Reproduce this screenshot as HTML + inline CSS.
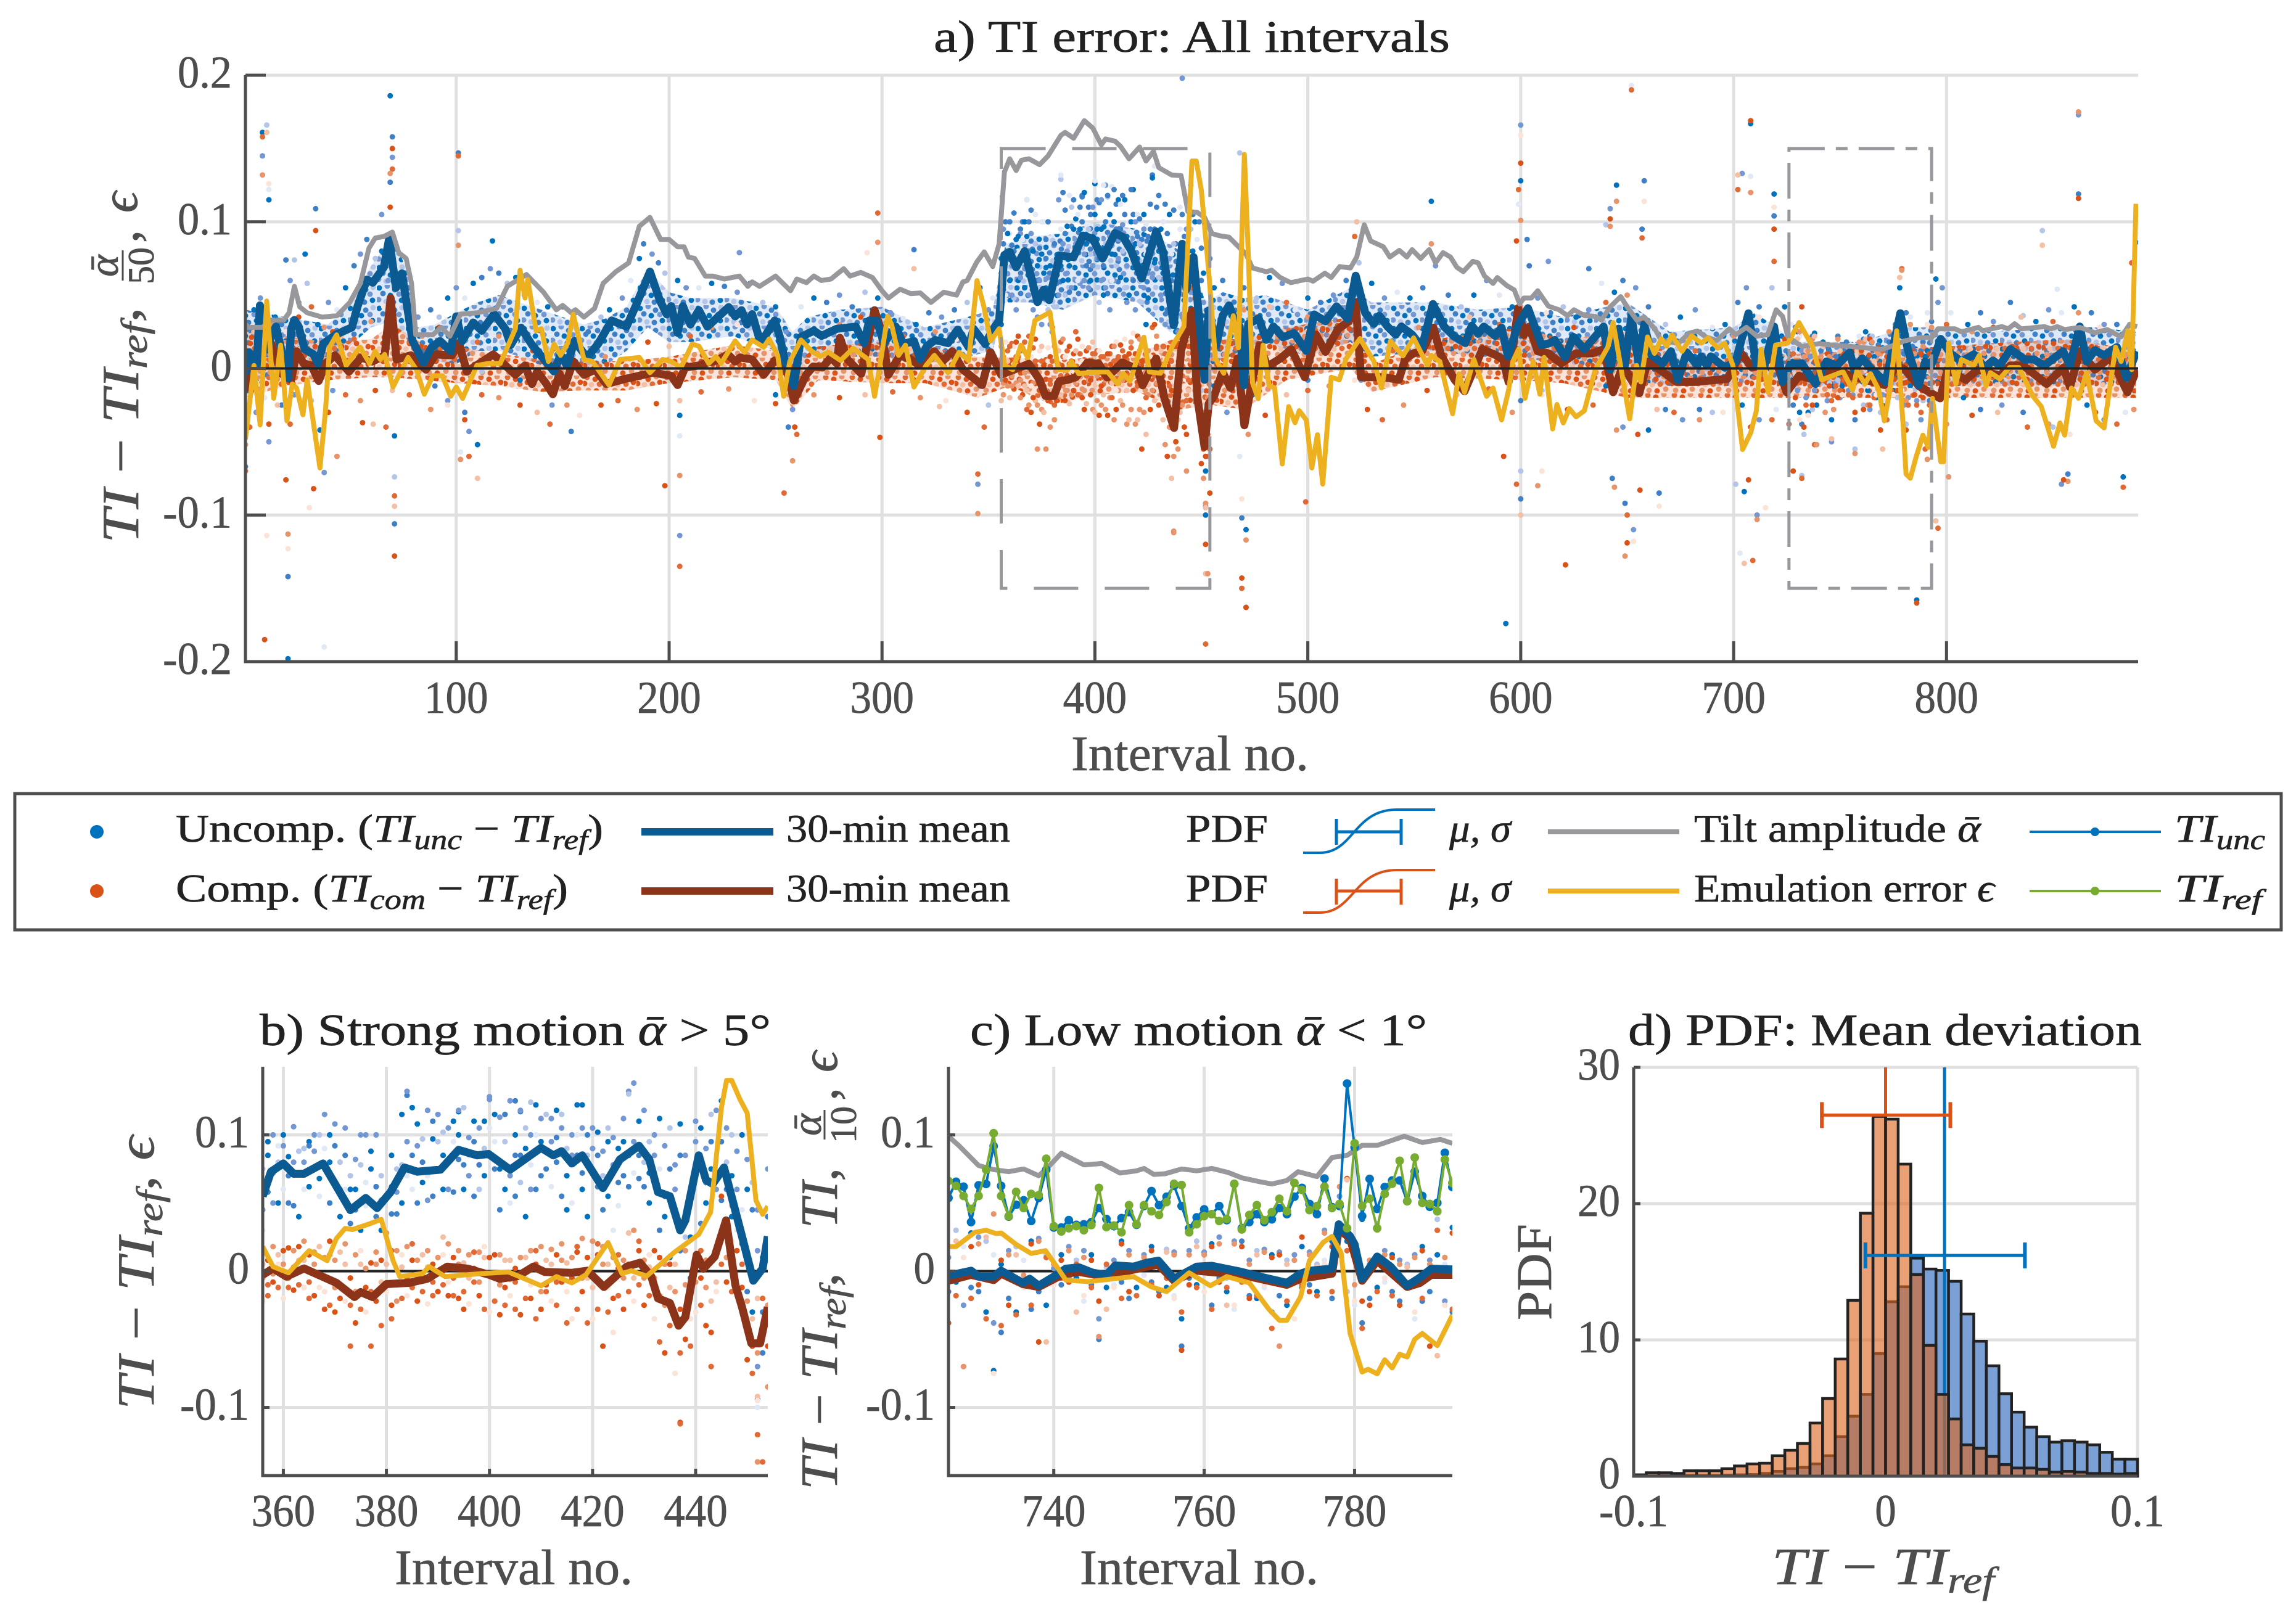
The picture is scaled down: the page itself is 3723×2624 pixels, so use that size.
<!DOCTYPE html>
<html><head><meta charset="utf-8"><title>TI error</title>
<style>
html,body{margin:0;padding:0;background:#fff}
svg{display:block}
text{font-family:"Liberation Serif",serif;fill:#4d4d4d;stroke:#4d4d4d;stroke-width:.7px}
.t{fill:#222;stroke:#222}
.i{font-style:italic}
</style></head><body>
<svg id="fig" xmlns="http://www.w3.org/2000/svg" width="3723" height="2624" viewBox="0 0 3723 2624">
<defs>
<clipPath id="ca"><rect x="398" y="122" width="3069" height="951"/></clipPath>
<clipPath id="cb"><rect x="426" y="1730" width="819" height="664"/></clipPath>
<clipPath id="cc"><rect x="1538" y="1730" width="817" height="664"/></clipPath>
<clipPath id="cd"><rect x="2649" y="1731" width="817" height="663"/></clipPath>
<pattern id="speckBlue" patternUnits="userSpaceOnUse" width="47" height="33">
<circle cx="4" cy="5" r="4.5" fill="#0072bd"/><circle cx="17" cy="2" r="4.5" fill="#7397d2"/><circle cx="29" cy="8" r="4.5" fill="#3f7fc5"/><circle cx="41" cy="4" r="4.5" fill="#b3c5e8"/>
<circle cx="10" cy="14" r="4.5" fill="#3f7fc5"/><circle cx="22" cy="17" r="4.5" fill="#0072bd"/><circle cx="36" cy="15" r="4.5" fill="#7397d2"/>
<circle cx="3" cy="24" r="4.5" fill="#7397d2"/><circle cx="15" cy="27" r="4.5" fill="#b3c5e8"/><circle cx="27" cy="28" r="4.5" fill="#3f7fc5"/><circle cx="40" cy="25" r="4.5" fill="#0072bd"/>
</pattern>
<pattern id="speckOrange" patternUnits="userSpaceOnUse" width="43" height="29">
<circle cx="6" cy="3" r="4.5" fill="#df6a35"/><circle cx="19" cy="6" r="4.5" fill="#d95319"/><circle cx="32" cy="2" r="4.5" fill="#e8946b"/>
<circle cx="2" cy="13" r="4.5" fill="#d95319"/><circle cx="13" cy="15" r="4.5" fill="#f3bfa5"/><circle cx="26" cy="14" r="4.5" fill="#df6a35"/><circle cx="38" cy="11" r="4.5" fill="#d95319"/>
<circle cx="8" cy="24" r="4.5" fill="#e8946b"/><circle cx="21" cy="25" r="4.5" fill="#d95319"/><circle cx="35" cy="22" r="4.5" fill="#e8946b"/>
</pattern>
</defs>
<g id="pa"></g>
<g id="pb"></g>
<g id="pc"></g>
<g id="pd"></g>

<text class="t" x="1514" y="84" font-size="73" textLength="837" lengthAdjust="spacingAndGlyphs">a) TI error:  All intervals</text>
<text x="1737" y="1249" font-size="80" textLength="385" lengthAdjust="spacingAndGlyphs">Interval no.</text>
<g>
<text transform="translate(224,881) rotate(-90)" font-size="85" textLength="383" lengthAdjust="spacingAndGlyphs"><tspan class="i">TI</tspan> − <tspan class="i">TI</tspan><tspan class="i" font-size="60" dy="14">ref</tspan><tspan dy="-14">,</tspan></text>
<text class="i" transform="translate(191,431) rotate(-90)" font-size="68" text-anchor="middle">ᾱ</text>
<line x1="199" x2="199" y1="406" y2="455" stroke="#4d4d4d" stroke-width="3"/>
<text transform="translate(249,431) rotate(-90)" font-size="60" text-anchor="middle">50</text>
<text transform="translate(224,394) rotate(-90)" font-size="85">,</text>
<text class="i" transform="translate(222,345) rotate(-90)" font-size="85">ϵ</text>
</g>

<g>
<rect x="24" y="1287" width="3675" height="221" fill="#fff" stroke="#4d4d4d" stroke-width="5"/>
<circle cx="157" cy="1349" r="11" fill="#0072bd"/>
<circle cx="157" cy="1445" r="11" fill="#d95319"/>
<text class="t" x="285" y="1365" font-size="64" textLength="693" lengthAdjust="spacingAndGlyphs">Uncomp. (<tspan class="i">TI</tspan><tspan class="i" font-size="46" dy="12">unc</tspan><tspan dy="-12"> − </tspan><tspan class="i">TI</tspan><tspan class="i" font-size="46" dy="12">ref</tspan><tspan dy="-12">)</tspan></text>
<text class="t" x="285" y="1462" font-size="64" textLength="636" lengthAdjust="spacingAndGlyphs">Comp. (<tspan class="i">TI</tspan><tspan class="i" font-size="46" dy="12">com</tspan><tspan dy="-12"> − </tspan><tspan class="i">TI</tspan><tspan class="i" font-size="46" dy="12">ref</tspan><tspan dy="-12">)</tspan></text>
<line x1="1040" x2="1254" y1="1349" y2="1349" stroke="#0b5a91" stroke-width="12"/>
<line x1="1040" x2="1254" y1="1445" y2="1445" stroke="#8c341a" stroke-width="12"/>
<text class="t" x="1275" y="1365" font-size="64" textLength="363" lengthAdjust="spacingAndGlyphs">30-min mean</text>
<text class="t" x="1275" y="1462" font-size="64" textLength="363" lengthAdjust="spacingAndGlyphs">30-min mean</text>
<text class="t" x="1923" y="1365" font-size="64" textLength="133" lengthAdjust="spacingAndGlyphs">PDF</text>
<text class="t" x="1923" y="1462" font-size="64" textLength="133" lengthAdjust="spacingAndGlyphs">PDF</text>
<path d="M2113 1383 H2140 C2195 1383 2195 1313 2265 1313 H2327" fill="none" stroke="#0072bd" stroke-width="4"/>
<path d="M2113 1480 H2140 C2195 1480 2195 1411 2265 1411 H2327" fill="none" stroke="#d95319" stroke-width="4"/>
<path d="M2167 1328V1370M2272 1328V1370M2167 1349H2272" fill="none" stroke="#0072bd" stroke-width="5"/>
<path d="M2167 1425V1467M2272 1425V1467M2167 1445H2272" fill="none" stroke="#d95319" stroke-width="5"/>
<text class="t i" x="2350" y="1365" font-size="64" textLength="100" lengthAdjust="spacingAndGlyphs">μ, σ</text>
<text class="t i" x="2350" y="1462" font-size="64" textLength="100" lengthAdjust="spacingAndGlyphs">μ, σ</text>
<line x1="2510" x2="2723" y1="1349" y2="1349" stroke="#98989c" stroke-width="8"/>
<line x1="2510" x2="2723" y1="1445" y2="1445" stroke="#edb120" stroke-width="8"/>
<text class="t" x="2747" y="1365" font-size="64" textLength="465" lengthAdjust="spacingAndGlyphs">Tilt amplitude <tspan class="i">ᾱ</tspan></text>
<text class="t" x="2747" y="1462" font-size="64" textLength="487" lengthAdjust="spacingAndGlyphs">Emulation error <tspan class="i">ϵ</tspan></text>
<line x1="3291" x2="3504" y1="1349" y2="1349" stroke="#0072bd" stroke-width="4"/>
<circle cx="3397" cy="1349" r="7" fill="#0072bd"/>
<line x1="3291" x2="3504" y1="1445" y2="1445" stroke="#77ac30" stroke-width="4"/>
<circle cx="3397" cy="1445" r="7" fill="#77ac30"/>
<text class="t i" x="3526" y="1365" font-size="64" textLength="147" lengthAdjust="spacingAndGlyphs">TI<tspan font-size="46" dy="12">unc</tspan></text>
<text class="t i" x="3526" y="1462" font-size="64" textLength="142" lengthAdjust="spacingAndGlyphs">TI<tspan font-size="46" dy="12">ref</tspan></text>
</g>

<text class="t" x="421" y="1695" font-size="73" textLength="829" lengthAdjust="spacingAndGlyphs">b) Strong motion <tspan class="i">ᾱ</tspan> &gt; 5°</text>
<text x="640" y="2569" font-size="80" textLength="386" lengthAdjust="spacingAndGlyphs">Interval no.</text>
<text transform="translate(249,2286) rotate(-90)" font-size="85" textLength="444" lengthAdjust="spacingAndGlyphs"><tspan class="i">TI</tspan> − <tspan class="i">TI</tspan><tspan class="i" font-size="60" dy="14">ref</tspan><tspan dy="-14">, </tspan><tspan class="i">ϵ</tspan></text>

<text class="t" x="1573" y="1695" font-size="73" textLength="741" lengthAdjust="spacingAndGlyphs">c) Low motion <tspan class="i">ᾱ</tspan> &lt; 1°</text>
<text x="1751" y="2569" font-size="80" textLength="387" lengthAdjust="spacingAndGlyphs">Interval no.</text>
<g>
<text transform="translate(1357,2416) rotate(-90)" font-size="85" textLength="352" lengthAdjust="spacingAndGlyphs"><tspan class="i">TI</tspan> − <tspan class="i">TI</tspan><tspan class="i" font-size="60" dy="14">ref</tspan><tspan dy="-14">,</tspan></text>
<text transform="translate(1357,1992) rotate(-90)" font-size="85" textLength="98" lengthAdjust="spacingAndGlyphs"><tspan class="i">TI</tspan>,</text>
<text class="i" transform="translate(1331,1824) rotate(-90)" font-size="68" text-anchor="middle">ᾱ</text>
<line x1="1337" x2="1337" y1="1800" y2="1848" stroke="#4d4d4d" stroke-width="3"/>
<text transform="translate(1388,1824) rotate(-90)" font-size="60" text-anchor="middle">10</text>
<text transform="translate(1357,1785) rotate(-90)" font-size="85">,</text>
<text class="i" transform="translate(1357,1739) rotate(-90)" font-size="85">ϵ</text>
</g>

<text class="t" x="2640" y="1695" font-size="73" textLength="833" lengthAdjust="spacingAndGlyphs">d) PDF: Mean deviation</text>
<text x="2873" y="2569" font-size="85" textLength="361" lengthAdjust="spacingAndGlyphs"><tspan class="i">TI</tspan> − <tspan class="i">TI</tspan><tspan class="i" font-size="60" dy="14">ref</tspan></text>
<text transform="translate(2515,2141) rotate(-90)" font-size="80" textLength="156" lengthAdjust="spacingAndGlyphs">PDF</text>
</svg>

<script>
// ---- Panel a: tick values and labels
const aXTicks=[100,200,300,400,500,600,700,800];
const aYTicks=[-0.2,-0.1,0,0.1,0.2];
const aYLabels=['-0.2','-0.1','0','0.1','0.2'];
const bXTicks=[360,380,400,420,440];
const cXTicks=[740,760,780];
const bcYTicks=[-0.1,0,0.1];
const bcYLabels=['-0.1','0','0.1'];
const dXTicks=[-0.1,0,0.1];
const dXLabels=['-0.1','0','0.1'];
const dYTicks=[0,10,20,30];

// ---- Series values: y given in units of 0.001
const tiltX=[1,2.5,9,13,19,21.5,24,26.5,30,37,44,50,55,59,62,66,70,73,76.5,79,81,89,93,97,102,110,119,124,133,141,147,150,154,156,160,165,169,175,181,186,191,196,200,204,207,209,212,217,220.5,226,233,237,239,242.5,250,257,260,264.5,268,271.5,276,282,285,290,295.5,300,303,308.5,313.5,318,323,329,335,338,340,344.5,348,352,355,357.5,360,363,365.5,369,374,378,384,386,390,395,399,403,405,409.5,412,416,421,424,427.5,430,436,440.5,443.7,448,451.5,455,458.5,463,467.5,471,474,480.5,483,487,492,500,502.5,508,511,515,520,523,526.5,529.5,535.5,538.5,543,546.5,549,553,557,560,563.5,567,570,573,577.5,580,583,587,589,593.5,597,599.5,601.5,605,608,613,618,622,625,630,635,638,642,647,650,654.5,658,663,666,674,679,683,687,692,698,701,706,711,716,720,723,725.5,732,740.4,745,755,769,773,780,787.6,793,796,804,807,815,817,826,829,832,835,846,849,852,855.5,862.6,869.7,875.5,882,886,889.5];
const tiltY=[30,28,28,33,33,38,56,42,38,35,36,45,58,82,89,90,93,79,75,58,23,23,28,22,37,38,41,56,64,52,40,43,38,40,35,41,58,66,72,97,103,88,88,83,83,76,75,63,63,61,63,56,59,56,63,53,61,58.5,63,60,61,68,63,65.5,62,53,48,54,51,51.5,45,52,50,59,60,72.5,79.5,69.5,85,134,143,135,142,143,139,145,159,161,157,169,164,152.5,156.5,155,151.5,143,151,141.5,148,137,132,131.5,107,106.5,103,92,90.5,89.5,83,78,68.5,66,67,62,58.5,61,59.5,65,62,69.5,68.5,76,98,87,83,76,80.5,76,81,75,81,72,79,76,69,66,73,72,63,58,62,56.5,53.5,44,48,48,53,42.5,40,36,40,36,35.5,33,42,49,42,33,35,27,19,17,24,25.5,21.5,19,27,23,28,22,23,40,35.5,21.5,15,17,16,15,13,14.5,18.7,21,21,27,27,25,28,25.7,28.5,27,30.5,27,28.5,27,28.5,26.5,28,24.3,26.5,21.5,30,28.5];

const uncMeanX=[1,2.4,4.4,6.3,7.8,9.5,11.5,13,15.3,17.8,21,22.5,24,26,28.8,33,35,37.6,43.4,51,53.7,58,60.8,66,68.5,71.7,74.5,76.9,79.5,84.7,88.5,92.4,97.5,100,102.8,108,112,117.8,123,125.6,130.4,135.6,145.9,149,152,155.6,161.4,166.6,173,180,184.7,191,195.6,198.9,201,204,206.5,210,214,218,228,231,234,236.6,239,243,249.6,252,254,258.6,261.9,268,271.6,278.7,287.7,291.6,294,297.4,301,306.5,310,315,318,321,325,331,335.5,340.7,343,348.5,351.7,355,357.5,360,363,367,373,375.9,378.5,383.4,390,394.4,399,403.6,409.4,413.3,417,422,428.8,432,437,441,443,446.3,449.5,451.5,453.4,457,460,463,466.3,468,470,472,477,480.5,483.8,488.3,493.5,499.3,503,508.3,513.5,518.7,522.5,527,531,533.6,537.4,541.3,544,549,553.6,558.8,564,569,574,577,580,582.7,588,591,594,598.8,603.4,609.8,613.7,616,620.8,624.7,629.9,638.9,642,646,648.9,652,655.5,658,661.5,666.7,670.6,673.8,678,683,684.8,687.4,689.3,695.8,701,707,710.7,714,719,723,726.8,732,738.5,743.6,748.5,754.6,756.6,760.4,765,771.4,778.3,781.8,787,790,792.8,797.3,801.8,807,812.8,818,821.8,825,830,836.7,841,846,854.8,858,862.6,865.8,869.7,874,880,884.5,889.3];
const uncMeanY=[-4,11,9,2,43,35,13,21.5,28.5,13,-6.5,27,33,28.5,13,9.6,3.4,17,23,28,42.5,60.6,58.5,69,88.5,55,64.8,42.5,18.7,4,14.5,18.7,11.7,35.5,18.7,31.3,25.7,37,27.1,16,27.8,16,-2,9,2,18.7,7.5,16.6,32.7,28.5,43.9,66,46.6,36.9,42.5,24.3,42.5,30,39.7,28.5,41.8,35.5,39.7,30,37,17.3,32.7,21.5,7.5,-12,21.5,25.7,22.2,27,28.5,17.3,32.7,32.7,17.3,28.5,16.6,18.7,6.1,15.2,19.4,17.3,26.4,14.5,27,16.6,25.7,32.7,77.4,79.5,69,80,45.3,53.6,46.6,76.7,76,90.6,88.5,75,92.3,89.6,80.5,61.4,93.3,79.6,29.5,85,54,76,25,-7.8,39.5,15.8,36,43,30.4,28.6,-11.5,30.4,34,19.5,28.6,21.3,24,12,36.8,32.2,42.3,34,63.2,37.7,30.4,35.9,28.6,23,28.6,23,14.5,43.9,28.5,21.5,17.3,29.2,23.6,28.5,22.2,27.8,8.2,29.9,41.1,15.9,17.3,19.4,7.5,21.5,13.1,28.5,-0.8,27.1,2,35.5,2,29.9,8.9,3.4,11.7,-7.8,11,2,8.2,2,8.2,0.6,4.7,37.6,2,-0.8,28.5,-9.2,3.4,3.4,-10.6,4.7,2,11,-0.8,6.8,-0.8,-9.2,37.6,13.1,-11.3,4.7,2,20.1,10.3,4.7,9.6,0.6,5.4,2,13.1,6.1,6.1,2,11.7,2,28.5,4.7,12.4,8.9,14.5,-6.4,11.7];

const comMeanX=[1,2.4,6.3,10,13,17.9,22.5,25,28.3,32,35.4,38.6,43,49.6,55.4,60.6,66.4,69.2,72,78.7,85.8,90.3,98,101.3,105,110.9,117.4,127.8,132.3,135.6,138,142,145.4,148.5,151,155,160,165.3,170.5,179.5,186,192.4,201,204,207.5,214,218,222.4,227.6,231,233.4,239,244.4,249.6,254.7,258.6,264.4,267.7,272,276,278.7,280.2,283.8,290.3,293,296.5,299.4,303,308.4,313.6,317.5,324.6,328.4,333,338,347,351,355.9,369,374,376.8,380.8,383.3,387.3,391,396.5,401.8,405.7,412.8,419.9,422.4,428.8,432.7,437.2,440.5,445.6,448.2,451.5,453.4,456,459.9,463.7,467,470.2,473.4,477.3,481,487,492.2,498.6,503.8,508.3,514.2,519.3,522.5,525,531,536,542.7,545.8,549.7,553.6,559,562.6,569,573.6,582,588.5,591.7,594.3,598.8,601.4,604,608,613,619,626,633.7,639,643.4,648,655.7,659.6,666,673.2,681.6,697,703.5,708.7,712.6,719,724.9,730.7,738.5,748.5,755,770.8,776.6,780.5,787,797,800.5,809,814.7,825,830,836,847,855,858,862.6,869.7,877,885,889.3];
const comMeanY=[-15.5,-1,4.7,17.3,17.3,-3.6,-7.8,11.7,3.4,2,-8.5,3.4,8.9,-2.2,7.5,4.7,8.9,48,6.1,8.9,-0.8,9.6,8.9,17.3,-2.2,3.4,9.6,-4.3,2,-10.6,-2.2,-9.9,-17.6,-3.6,-12,4.7,-4.3,-0.8,-10.6,-7.1,-5,-2.9,-5,-11.3,0.6,2,4,5.4,9.6,4.7,7.5,6.1,-4.3,5.4,2,-21.8,-4.3,1.3,0.6,7.5,3.4,20.8,6.1,-3.6,15.9,39.7,27.1,-4.3,8.9,6.1,2,11.7,4.7,11.7,-0.8,-11.3,11,-4.2,3.1,-7.8,-18.8,-18.8,-8.7,-7.8,-6,4,3.1,-6,4,-0.5,-11.5,6.7,-20.6,-40.6,12.2,39.5,-20.6,-53.4,-24.2,-18.8,-2.4,-13.3,6.7,-38.8,-11.5,15.8,1.3,6.7,13.1,-6,23.1,11.3,26.8,32.2,45,-6,-6,-6,-7.8,6.7,10.3,11.7,27.8,8.9,-7.8,-15.5,13.1,8.9,6.1,-9.2,41.1,22.9,28.5,11.7,10.3,3.4,10.3,10.3,13.1,-16.2,2,-16.9,4.7,-1.5,-9.2,-9.2,-7.1,10.3,0.6,2,8.9,-16.2,-5,-7.8,-0.8,-5,-11.3,2,-0.8,-12,-20.4,-0.8,-7.8,-0.8,-5,2,2,-10.6,0.6,-12.7,11.7,-0.8,7.5,-16.2,-0.8];

const emuErrX=[1,5,7.9,11,14.3,17.5,20.5,23,25,28,30,36,38.6,40.5,43.8,48.3,54.8,59.3,61.9,64.4,66.4,70.3,77.4,81.3,85,89,93.5,97.4,100,103,109.7,115,120.7,127.8,130,132.3,133.6,137.5,140,143.3,146,149,152.4,155,160,164,171.8,177,186,191,197,201,205.6,210.8,214,218.6,222,224.4,231,235.4,239,244.4,247,251,253.8,256.7,261.9,267,270.9,274.8,280.6,286.4,290.3,293.5,296.5,298.7,302.6,304.5,307.8,311,315,320.7,324.6,331,336.2,340.7,344.6,347.8,351,355,357.5,361.4,365.3,368.5,371.8,378.9,382.7,387.3,389,392.4,400,406,410.7,413.3,416.5,423,425.6,430.8,436.6,441.8,445.6,447.6,450,453.4,456.6,460.5,465,467.4,470.2,472,474,476.7,479,481.8,484.4,488,491,494,496,499.3,501.9,504.5,507,511,514.8,518,524.5,531,534.6,538.8,544.7,549.7,556.2,558,562,568,571,573.6,578,584,587,591,594.3,596.3,599,602,605.9,609,611,615,617,620,622.8,626,629.9,635,640.9,643.4,646.7,651.2,654.4,656.4,659.6,662.8,666,668.6,671,675.8,680.3,684.8,688,692.6,695.8,699.7,704.2,708,710.7,712.9,716.2,719.7,725.5,730.7,737,741.4,751.4,755.9,757.9,761.7,764.3,768.2,770.8,773.4,776.6,779.8,781,783,785.6,788.9,791.5,793.4,797.3,798.6,801,804.4,807,812.8,815.4,818.6,820.6,825,829.6,834,840.6,844.5,850.3,853.3,855.5,858.7,862,865.8,870.3,874,879.4,882,885.2,887,889];
const emuErrY=[-48.3,2,-38.5,46,-20.4,15.9,-35.8,-10.6,-13.4,-31.6,-7.8,-67.9,-28.8,14.5,22.9,2,14.5,3.4,11.7,6.1,9.6,-12.7,7.5,-0.8,-17.6,-5,-5,-19,-12.7,-20.4,2,3.4,3.4,27.1,66.9,48,60.6,25.7,27.1,4.7,16.6,8.9,17.3,36.9,6.1,4.7,-11.3,6.1,7.5,-2.9,6.1,4.7,0.6,16.6,15.2,3.4,8.2,3.4,18.7,11,19.4,14.5,20.1,8.9,-19,4.7,19.4,11.7,8.2,11,5.4,13.8,9.6,6.1,-19,-0.8,35.5,30,8.9,15.9,-12.7,2,8.9,-2.9,11,5.4,59.9,42.5,18.7,27.1,2,-0.8,15.9,7.5,32.7,38.3,-0.8,-0.8,4.7,-3.6,-2.4,-2.4,-10.6,-3.3,-8.7,21.3,-2.4,-3.3,15.8,28.6,141.5,141.5,121.5,66.8,6.7,-3.3,35.9,14,146,79.6,-9.7,-20.6,15.8,-11.5,-13.3,-65.2,-26,-37,-28.8,-35.2,-67.9,-45.2,-78.9,-6,-7.8,6.7,20.4,4.9,-13.3,18.6,8.6,20.8,2,8.9,4.7,-30.9,-3.6,-16.2,6.1,-19,-13.4,-35.1,-14.8,4.7,13.1,-20.4,4.7,-17.6,7.5,-41.3,-24.6,-37.2,-27.4,-33,-28.8,-0.8,14.5,31.3,3.4,-34.4,2,-9.2,21.5,10.3,20.1,15.2,22.9,11.7,22.2,17.3,20.8,13.8,17.3,2,-55.3,-44.1,-28.8,13.1,-16.2,15.9,17.3,31.3,15.2,-7.8,-2.2,-14.8,-1.5,-10.6,-3.6,-14.8,-35.8,-14.8,25.7,-42.7,-72.1,-74.9,-60.9,-45.5,-53.9,-20.4,-63.7,-63.7,17.3,-10.6,6.1,2,8.9,-12,-2.9,-7.1,0.6,0.6,-19,-26,-53.1,-37.2,-45.5,-13.4,-20.4,-2.9,-35.8,-40.6,14.5,4.7,25.7,-0.8,112.3];

// Dense-cloud envelope of the point clouds (units of 0.001)
const uncCloudX=[1,20,40,50,60,70,76,82,90,100,110,120,130,140,150,160,170,180,190,200,210,230,250,258,265,280,300,320,340,352,358,370,385,400,420,435,445,452,460,470,480,500,520,530,560,580,600,620,640,650,670,700,710,730,760,780,800,820,850,870,889];
const uncCloudTop=[40,35,30,45,70,90,70,28,30,38,45,50,45,40,35,30,34,42,68,52,48,48,42,25,35,40,42,28,35,40,85,90,92,100,95,85,75,45,52,48,50,40,55,45,45,40,42,35,42,45,25,28,38,18,18,28,28,25,28,28,25];
const uncCloudBot=[-10,-5,5,15,28,32,22,5,5,3,12,12,8,2,-3,0,2,12,28,18,18,22,12,-12,8,8,8,3,8,12,45,45,40,50,45,25,22,-8,8,8,18,8,18,8,12,8,8,2,2,-8,-12,-12,-8,-12,-12,-12,-12,-12,-12,-12,-8];
const comCloudX=[1,20,40,60,70,85,100,120,140,160,180,200,230,250,258,270,300,320,345,360,380,400,420,440,455,470,490,520,530,560,600,620,650,680,700,730,760,800,830,860,889];
const comCloudTop=[25,22,18,20,30,16,15,10,6,5,5,8,16,12,3,15,18,15,8,8,5,8,10,22,20,20,28,35,3,20,28,20,25,3,8,10,12,15,18,20,12];
const comCloudBot=[-20,-12,-8,-6,-6,-8,-10,-12,-16,-15,-15,-10,-6,-8,-28,-8,-10,-10,-20,-12,-25,-18,-16,-28,-25,-28,-8,0,-16,-6,-8,-10,-20,-20,-20,-20,-20,-20,-20,-20,-20];

// Individual readings, flat x,y pairs (y in 0.001)
const uncPoints=[69,186,70,158,70,144,69,127,11,166,9,161,9,145,12,122,12,115,34,109,65,105,101,147,101,94,117,87,233,79,38,-190,21,-198,21,-142,205,-114,71,-106,71,-74,71,-46,38,-71,205,-46,205,-32,1,-67,12,-50,20,74,24,74,29,78,106,-43,102,-57,110,-52,154,-43,441,198,315,81,384,129,400,126,405,125,408,124,418,122,427,132,368,115,394,117,406,117,558,114,600,166,599,112,600,128,603,88,613,73,632,68,468,147,452,-70,452,-94,452,-140,471,-110,469,-102,471,-163,600,-89,600,-70,593,-174,345,-79,652,193,645,125,658,128,642,109,657,95,640,98,708,167,704,133,708,131,719,119,719,104,862,173,862,119,845,94,795,61,798,55,852,54,889,86,649,-92,653,-110,643,-75,701,-79,705,-84,711,-100,703,-126,883,-74,857,-72,854,-79,665,-85,732,-73,786,-158,
356,65,356,45,356,30,357,85,357,58,358,100,358,72,359,80,359,50,360,92,360,60,361,84,361,70,362,106,362,48,363,88,363,40,364,80,364,60,365,95,365,92,366,100,366,75,367,100,367,68,368,115,368,90,369,80,369,50,370,108,370,65,371,80,371,40,372,105,372,60,373,60,373,35,374,82,374,45,375,78,375,30,376,100,376,65,377,75,377,50,378,100,378,40,379,70,379,30,380,55,380,25,381,85,381,62,382,58,382,42,383,78,383,115,384,132,384,70,385,120,385,85,386,92,386,50,387,97,387,65,388,118,388,70,389,97,389,55,390,115,390,75,391,102,391,60,392,105,392,80,393,110,393,58,394,118,394,82,395,120,395,60,396,98,396,85,397,110,397,55,398,105,398,78,399,90,399,70,400,128,400,105,401,115,401,75,402,113,402,45,403,95,403,60,404,125,404,50,405,100,405,55,406,118,406,85,407,105,407,40,408,100,408,78,409,122,409,60,410,112,410,70,411,115,411,88,412,112,412,62,413,118,413,98,414,105,414,55,415,90,415,45,416,100,416,50,417,122,417,85,418,105,418,72,419,85,419,40,420,105,420,75,421,102,421,62,422,88,422,45,423,105,423,55,424,98,424,30,425,90,425,65,426,112,426,70,427,130,427,85,428,138,428,72,429,110,429,68,430,118,430,62,431,95,431,50,432,100,432,65,433,112,433,30,434,92,434,55,435,105,435,10,436,78,436,45,437,108,437,15,438,85,438,40,439,50,439,-5,440,110,440,72,441,105,441,35,442,90,442,65,443,115,443,75,444,118,444,80,445,125,445,52,446,105,446,60,447,100,447,40,448,88,448,30,449,100,449,20,450,82,450,-15,451,65,451,-30,452,45,452,-100,453,10,453,-60,454,75,454,40,
356,75,357,95,358,50,359,92,360,100,361,50,362,80,363,72,364,90,365,62,366,88,367,55,369,100,370,92,371,60,372,85,373,70,374,60,375,100,376,48,377,88,378,62,379,52,381,42,382,75,383,50,384,95,385,60,386,108,387,80,388,52,389,110,390,95,391,85,392,60,393,95,394,100,395,78,396,70,397,95,398,60,399,110,400,85,401,95,402,75,403,115,404,70,405,85,406,65,407,90,408,60,409,100,410,95,411,75,412,95,413,80,414,115,415,70,416,85,417,100,418,60,419,100,420,90,421,85,422,70,423,95,424,78,425,48,426,95,427,62,428,95,429,85,430,80,431,72,432,85,433,75,434,40,435,75,436,60,437,85,438,25,439,25,440,95,441,85,442,50,443,95,444,60,445,95,446,80,447,70,448,60,449,45,450,60,451,45,452,15,453,-30,
726,10,726,-15,727,30,727,-8,728,-25,728,18,729,28,729,-12,730,25,730,-15,731,22,731,-30,732,-38,732,12,733,5,733,-45,734,15,734,-20,735,18,735,-30,736,-8,736,8,737,22,737,-28,738,24,738,-15,739,12,739,-25,740,2,740,-8,741,12,741,-10,742,18,742,-5,743,8,743,-5,744,15,744,-22,745,12,745,-10,746,-35,746,-50,747,3,747,-12,748,8,748,-10,749,22,749,-8,750,15,750,-20,751,5,751,-12,752,12,752,-3,753,18,753,-8,754,8,754,-15,755,16,755,-12,756,14,756,-18,757,-35,757,-55,758,15,758,-5,759,22,759,-10,760,14,760,-8,761,20,761,-25,762,25,762,-5,763,-5,763,-15,764,22,764,-28,765,-5,765,22,766,8,766,-18,767,15,767,-20,768,16,768,-12,769,12,769,-30,770,14,770,-18,771,8,771,-25,772,12,772,-5,773,18,773,-12,774,14,774,-10,775,5,775,-15,776,30,776,8,777,22,777,-20,778,55,778,12,779,-15,779,22,780,10,780,-25,781,38,781,-38,782,5,782,-20,783,35,783,-12,784,15,784,-8,785,12,785,-15,786,8,786,-22,787,5,787,-10,788,12,788,-35,789,18,789,-22,790,8,790,-15,791,38,791,12,792,-22,792,5,793,32,793,-30,
5,40,8,48,12,30,15,35,18,30,22,60,26,45,30,58,35,30,40,45,44,40,48,55,52,70,55,78,58,88,62,75,65,80,68,60,72,70,76,65,78,55,82,35,88,40,92,35,96,48,100,55,104,48,108,58,112,62,116,68,120,65,124,58,128,62,132,50,138,45,143,42,150,42,156,38,162,25,168,35,172,40,178,48,182,60,186,75,188,85,192,78,195,72,198,65,204,60,208,55,214,55,220,58,226,56,232,52,238,58,244,45,250,42,255,25,262,42,268,48,274,45,280,50,286,42,292,52,298,48,304,38,310,34,316,30,322,38,328,35,334,40,340,45,346,55,350,40,352,48,456,55,460,60,464,42,470,55,476,48,482,62,488,58,494,40,500,48,506,45,512,50,518,60,524,72,530,58,536,48,542,52,548,48,554,55,560,70,566,50,572,42,578,50,584,60,590,50,596,42,604,70,608,48,614,38,620,42,626,35,632,40,638,58,644,52,648,60,654,55,660,42,668,30,675,35,682,40,690,28,696,30,702,45,706,55,712,42,718,55,724,42,796,45,802,38,810,30,816,38,822,32,830,45,836,36,842,32,848,40,854,38,860,42,868,38,874,30,880,30,886,30,
2,-15,6,-30,10,-20,14,-10,18,-25,24,-18,28,-30,32,-22,36,-42,42,-15,60,2,80,8,90,-12,96,-22,104,-30,112,-2,130,-8,145,-25,160,-5,250,-18,256,-40,258,-28,346,-12,350,-25,456,-12,462,-30,468,-60,474,-18,500,-8,525,-8,600,-22,610,-15,640,-12,648,-40,652,-30,660,-42,668,-28,676,-35,684,-28,690,-30,704,-25,712,-35,720,-28,808,-20,816,-28,826,-25,836,-30,850,-40,866,-25,874,-35,884,-30];
const comPoints=[70,150,70,136,69,133,69,110,11,161,9,158,9,132,12,126,34,94,101,145,101,84,71,-128,71,-94,71,-87,21,-113,21,-123,20,-76,205,-135,205,-73,198,-80,110,-75,106,-60,102,-62,31,-95,33,-82,1,-70,44,-60,56,-37,61,-38,67,-40,1,-52,11,-114,10,-185,254,-85,258,-63,259,-40,523,100,522,90,558,85,600,159,600,140,599,122,600,101,598,87,315,68,298,106,298,86,293,79,621,-134,499,-91,437,-111,452,-120,452,-140,452,-188,452,-92,469,-89,469,-143,469,-150,471,-117,471,-163,600,-100,598,-79,608,-80,610,-70,592,-60,345,-72,345,-99,299,-47,327,-26,652,190,645,114,658,114,642,102,657,89,642,97,708,169,702,132,702,122,708,120,719,110,719,95,719,73,862,175,862,116,845,84,779,68,649,-128,653,-118,650,-119,650,-100,644,-81,656,-83,705,-133,709,-131,711,-103,715,-95,707,-76,883,-81,857,-77,855,-76,795,-104,796,-109,801,-74,665,-94,786,-160,887,72,
356,15,356,-5,356,-22,357,8,357,-10,358,18,358,-8,359,12,359,-12,360,5,360,-20,361,17,361,-5,362,15,362,-14,363,8,363,-10,364,22,364,-12,365,12,365,-8,366,5,366,-18,367,18,367,-3,368,10,368,-15,369,22,369,-25,370,8,370,-30,371,14,371,-10,372,20,372,-22,373,-5,373,-55,374,12,374,-38,375,5,375,-28,376,2,376,-30,377,6,377,-55,378,14,378,-22,379,-8,379,-40,380,28,380,-15,381,-25,381,-35,382,15,382,-10,383,3,383,-20,384,18,384,-18,385,8,385,-12,386,-5,386,-22,387,12,387,-15,388,15,388,-24,389,5,389,-18,390,-2,390,-15,391,25,391,-10,392,20,392,-8,393,10,393,-18,394,15,394,-20,395,6,395,-15,396,12,396,-24,397,2,397,-8,398,14,398,-18,399,10,399,-28,400,-2,400,-30,401,12,401,-22,402,-10,402,-32,403,8,403,-25,404,-6,404,-18,405,2,405,-28,406,-4,406,-32,407,10,407,-20,408,15,408,-10,409,5,409,-35,410,18,410,-28,411,8,411,-15,412,16,412,-22,413,12,413,-25,414,20,414,-8,415,6,415,-38,416,10,416,-35,417,14,417,-28,418,24,418,-15,419,-5,419,-38,420,22,420,-35,421,12,421,-28,422,18,422,-55,423,5,423,-30,424,10,424,-45,425,2,425,-18,426,-5,426,-28,427,28,427,-15,428,30,428,-22,429,15,429,-10,430,8,430,-25,431,3,431,-18,432,-5,432,-35,433,10,433,-52,434,5,434,-60,435,-12,435,-40,436,-15,436,-75,437,-28,437,-112,438,-10,438,-50,439,-20,439,-55,440,-8,440,-30,441,-5,441,-25,442,-12,442,-40,443,-22,443,-70,444,15,444,-15,445,55,445,5,446,30,446,-8,447,48,447,-15,448,38,448,-12,449,-12,449,-25,450,-22,450,-65,451,-35,451,-75,452,-60,452,-95,453,-45,453,-140,454,-25,454,-55,
356,5,357,-18,358,-2,359,5,360,15,361,-12,362,3,363,18,364,8,365,-20,366,14,367,-12,368,-28,369,12,370,-12,371,-20,372,5,373,-25,374,-15,375,15,376,-12,377,-15,378,5,379,8,380,5,381,15,382,-22,383,12,384,-5,385,20,386,8,387,-5,388,3,389,-8,390,10,391,12,392,-18,393,-5,394,5,395,-28,396,-5,397,14,398,-8,399,18,400,10,401,-5,402,12,403,-12,404,8,405,-8,406,10,407,-5,408,-20,409,15,410,-15,411,-10,412,5,413,-8,414,8,415,-15,416,-5,417,18,418,-5,419,10,420,-12,421,20,422,5,423,-12,424,-20,425,12,426,8,427,5,428,-5,429,22,430,-5,431,12,432,15,433,-18,434,-25,435,5,436,5,437,-60,438,15,439,-35,440,12,441,15,442,8,443,-45,444,-8,445,25,446,10,447,22,448,15,449,5,450,-40,451,-55,452,-20,453,-20,454,-85,
726,-5,726,-38,727,22,727,-18,728,-70,728,10,729,18,729,-20,730,20,730,-10,731,25,731,-35,732,42,732,-75,733,8,733,-40,734,12,734,-25,735,12,735,-32,736,-3,736,-12,737,20,737,-25,738,22,738,-52,739,-52,739,10,740,5,740,-10,741,8,741,-5,742,15,742,-8,743,-30,743,5,744,10,744,-18,745,8,745,-12,746,-48,746,-22,747,-28,747,5,748,5,748,-12,749,20,749,-20,750,12,750,-15,751,3,751,-18,752,10,752,-8,753,15,753,-10,754,6,754,-18,755,14,755,-5,756,12,756,-20,757,-58,757,-30,758,12,758,-10,759,18,759,-12,760,12,760,-15,761,18,761,-28,762,20,762,-8,763,-25,763,-12,764,20,764,-25,765,18,765,-8,766,5,766,-20,767,12,767,-18,768,14,768,-10,769,10,769,-42,770,-55,770,12,771,5,771,-22,772,8,772,-35,773,25,773,-10,774,12,774,-15,775,3,775,-18,776,28,776,5,777,18,777,-15,778,62,778,30,779,67,779,15,780,-10,780,-22,781,-22,781,-42,782,8,782,-25,783,30,783,-15,784,12,784,-5,785,10,785,-18,786,5,786,-25,787,3,787,-12,788,10,788,-30,789,15,789,-20,790,5,790,-55,791,-62,791,30,792,10,792,-25,793,28,793,-28,
5,25,8,40,14,30,20,25,26,35,32,42,38,28,42,25,46,22,52,20,60,32,66,42,72,25,78,18,84,22,92,28,100,30,110,18,120,22,128,18,136,12,150,12,170,8,190,18,200,15,210,22,220,28,232,30,245,20,262,22,280,30,290,35,300,28,310,22,325,25,335,20,350,12,460,30,470,40,476,35,482,42,490,45,500,35,512,40,520,50,540,12,552,28,564,30,576,35,590,30,600,42,612,38,625,28,640,45,650,50,658,32,670,18,682,12,700,22,712,35,724,20,800,30,812,25,822,28,835,35,850,32,862,38,872,28,885,22,
3,-40,7,-30,12,-38,16,-25,22,-38,28,-25,34,-45,40,-30,48,-18,55,-22,62,-15,70,-15,78,-18,88,-28,96,-25,104,-35,112,-18,120,-20,130,-25,138,-30,144,-38,152,-25,158,-32,168,-25,176,-22,185,-28,194,-24,205,-22,215,-16,228,-14,240,-22,250,-24,260,-45,268,-18,280,-20,292,-18,305,-16,318,-20,330,-22,340,-30,348,-40,472,-45,480,-32,490,-18,500,-15,510,-12,522,-8,528,-28,535,-35,545,-25,556,-15,570,-18,585,-14,596,-30,610,-18,622,-28,634,-25,645,-42,655,-45,664,-28,672,-30,684,-35,695,-30,708,-40,718,-35,800,-38,812,-32,824,-30,838,-40,848,-38,858,-45,870,-30,880,-38,888,-28];

// ---- Panel b: zoomed series (y in 0.001)
const bUncX=[356,357.6,360,362,364,367.7,373,376,378.2,380.8,383.5,386,390.5,394,397.6,399.8,404,410,412.4,414,416,418,422,425.3,429,431,432.7,435,437,438,440.6,442,443.3,445.5,449,451.2,453,454];
const bUncY=[55,73,79,71.5,71.5,79,44.8,53.7,46.3,58,76,73,74.5,89,85,86,74.5,90.5,85,88,79,85,61,82,92,82,58,55,30,37.3,85,67,64,76,25.5,-7,2,25.5];
const bComX=[356,358,360.6,364,370.3,373.8,375,377.3,380,384.4,387.9,391.8,395.8,400,402,405.5,408.5,410.7,416,419,422.2,426.6,429.2,431.4,432.7,435,436.7,438,440.2,441.5,443.7,445.9,447.7,449,450.8,452.5,454];
const bComY=[-2.7,2,-4,2,-8.6,-19,-15.4,-19,-9.5,-8.6,-5.6,3.3,1.8,-2.7,-5.6,-3.6,3.3,-0.6,-1.2,0.3,-11.6,3.3,6.2,-4,-20,-23.4,-40,-33.7,12,1.8,10.7,37.3,-10,-26.4,-53,-53,-26.4];
const bEmuX=[356,358,361,365,368.5,370.3,372,373.4,376.4,379,381.3,382.6,387,388.3,391.4,398.4,403.7,410,413,416,418.7,423,425.7,427.5,430.5,435.8,440.6,442.9,445,446,447,448.6,450,451.7,453,454];
const bEmuY=[18,3.3,-1.2,15,7.7,24,31.4,30.5,34.3,38,7.7,-4,-1.8,3.3,-4,-1.8,-0.6,-10.7,-4,-8.6,-2.7,21,-1.8,0.3,-3.6,13.6,27,43.2,120,140,140,126,116,52,41.7,47.6];

// ---- Panel c: zoomed series (y in 0.001)
const cTiltX=[726,727.4,730,732,734,736,738,739.2,741,744,746.4,748.8,751,752,753.3,754.8,757,759,761,763.2,765,767.4,769,771,772.5,775,777,779,781,783,786.6,789,791.4,793];
const cTiltY=[99,92,77.5,74.5,73,75,70,76,86.5,78,79,72,73.6,75.4,71,71.5,75,73.6,75.4,72.4,68.5,65.6,64,66.5,73,69.4,83.4,85,92.3,92.3,99,94.4,96.7,93.8];
const cUncMeanX=[726,729,730,732,733,735.9,736.8,738,740.4,741.6,743.4,745.2,747,748.2,750.6,752.4,753.9,756,759,761,765,767.4,771,772.8,774,777,777.9,779.4,780,781,783,784.8,787,788.7,790.2,793];
const cUncMeanY=[-3.3,0.3,-4,-4,0.3,-8.6,-5.6,-10.7,-2.7,1.8,2.7,-1.2,-2.7,4.2,3.3,6.2,7.7,-5.6,3.3,3.9,-0.6,-4,-8.6,-1.8,0.3,1.8,34.4,25.5,19.6,-5.6,10.7,3.3,-10.7,-4.7,1.8,1.2];
const cComMeanX=[726,729,732,733,735.9,738,740.4,741.6,743.4,747,748.2,752.4,753.9,756,759,765,771,772.8,777,777.9,779.4,781,783,787,788.7,790.2,793];
const cComMeanY=[-7,-2.7,-6.5,-1.8,-9.5,-11.6,-4.7,-1.8,-0.6,-4,-1.8,3.3,4.8,-7,0.3,-2.7,-10,-5.6,-1.8,31,24,-7,7.7,-11.6,-8.6,-2.7,-2.7];
const cEmuX=[726,727,729.5,731,732.3,733,735,737,738.9,740.4,741.6,744.6,750.6,753,755,758,760.8,763,766,768.6,770,771,772.8,774,775.8,777,778.2,779.4,781,781.8,783,784,785,786,787,788,789,791,793];
const cEmuY=[18,18,28.5,30,27.6,28,19.6,13,15,3.3,-6.5,-7.7,-4,-11.6,-15,-1.2,-10.7,-4,-8.6,-28,-36,-36,-19,7.7,21,25.5,13.6,-45.7,-74,-72,-75.4,-65,-71,-61,-63,-50,-45.7,-54.6,-32.3];
const cIntervals=[726,727,728,729,730,731,732,733,734,735,736,737,738,739,740,741,742,743,744,745,746,747,748,749,750,751,752,753,754,755,756,757,758,759,760,761,762,763,764,765,766,767,768,769,770,771,772,773,774,775,776,777,778,779,780,781,782,783,784,785,786,787,788,789,790,791,792,793];
const cTiUnc=[53.7,65.6,62,36,63,64,91.7,62.6,40,48.7,52,36.8,53.7,74.5,32,32,37.4,34,34.4,36,46.3,38.3,33,38.9,43.3,34,47.8,58.8,48.4,54.6,62.6,47.8,31.5,39.5,45.4,41.8,47.8,37.4,64,31.5,36,41.8,36,38,46.3,41.8,54.6,61.1,49.3,41.8,68,47,47.8,137.7,90.8,40.4,67.7,45.7,61.7,66.5,66.5,51.3,73,55.2,47.2,50.1,86.9,61.7];
const cTiRef=[66.2,62.6,55.2,45.7,55.2,74.5,101.2,55.2,40.4,58.2,46.3,56.7,55.8,82.5,33,29.1,31.5,33,30,33.8,61.1,32.3,33.5,28.5,48.4,34.4,48.4,43.9,41.2,50.7,64.1,63.2,28.5,34.4,40.4,41.8,36.8,38.3,64.1,30.6,41.2,48.4,37.4,43.3,53.1,43.9,64.7,59.6,44.8,47.8,62,46.3,49.3,31.5,93.8,47.8,53.1,31.5,56.7,64.1,81,51.3,83.4,50.1,49.3,43.9,81.9,64.7];

// ---- Panel d: 40 histogram bins of width 0.005 from -0.1
const binEdgeStart=-0.1;
const binWidth=0.005;
const uncPdf=[0,0.02,0.03,0.03,0.05,0.05,0.05,0.08,0.1,0.12,0.2,0.35,0.55,0.65,0.9,1.5,2.9,4.4,6,9,12.8,13.9,16,15.2,15.1,14.3,11.9,9.9,8.1,6.05,4.7,3.6,2.9,2.5,2.6,2.5,2.3,1.75,1.25,1.25];
const comPdf=[0.1,0.25,0.25,0.2,0.4,0.4,0.4,0.55,0.75,0.9,0.95,1.5,1.9,2.4,3.9,5.7,8.6,12.9,19.3,26.4,26.2,22.9,14.8,9.6,6,4.2,2.3,2.05,1.45,0.85,0.6,0.6,0.5,0.3,0.35,0.3,0.2,0.2,0.15,0.2];
const uncStats=[0.0234,-0.008,0.0553,16.2];
const comStats=[0,-0.0253,0.0257,26.5];

// ---- Drawing
const NS='http://www.w3.org/2000/svg';
function E(tag,parent){const e=document.createElementNS(NS,tag);parent.appendChild(e);return e;}
const scale=(d0,d1,r0,r1)=>v=>r0+(v-d0)*(r1-r0)/(d1-d0);
const BLUES=['#0072bd','#3f7fc5','#7397d2','#3f7fc5','#b3c5e8','#0072bd','#7397d2','#e2e9f6'];
const ORANGES=['#d95319','#df6a35','#e8946b','#d95319','#f3bfa5','#df6a35','#e8946b','#fbe3d8'];

function polyline(parent,name,xs,ys,sx,sy,k,color,w,clip){
  const p=E('path',parent);
  
  
  let d='';
  for(let i=0;i<xs.length;i++)d+=(i?'L':'M')+sx(xs[i]).toFixed(1)+' '+sy(ys[i]*k).toFixed(1);
  p.setAttribute('d',d);p.setAttribute('fill','none');p.setAttribute('stroke',color);
  p.setAttribute('stroke-width',w);p.setAttribute('stroke-linejoin','round');
  p.setAttribute('clip-path','url(#'+clip+')');
}
function band(parent,name,xs,top,bot,sx,sy,color,op,clip){
  const p=E('path',parent);
  
  
  let d='';
  for(let i=0;i<xs.length;i++)d+=(i?'L':'M')+sx(xs[i]).toFixed(1)+' '+sy(top[i]/1000).toFixed(1);
  for(let i=xs.length-1;i>=0;i--)d+='L'+sx(xs[i]).toFixed(1)+' '+sy(bot[i]/1000).toFixed(1);
  p.setAttribute('d',d+'Z');p.setAttribute('fill',color);p.setAttribute('fill-opacity',op);
  p.setAttribute('clip-path','url(#'+clip+')');
}
function pointsUnc(parent,pts,sx,sy,r,clip,x0,x1){
  const g=E('g',parent);g.setAttribute('clip-path','url(#'+clip+')');
  
  
  let n=0;
  for(let i=0;i<pts.length;i+=2){
    if(pts[i]<x0||pts[i]>x1)continue;
    const c=E('circle',g);
    
    
    c.setAttribute('cx',sx(pts[i]).toFixed(1));c.setAttribute('cy',sy(pts[i+1]/1000).toFixed(1));
    c.setAttribute('r',r);c.setAttribute('fill',BLUES[n++%BLUES.length]);
  }
}
function pointsCom(parent,pts,sx,sy,r,clip,x0,x1){
  const g=E('g',parent);g.setAttribute('clip-path','url(#'+clip+')');
  
  
  let n=0;
  for(let i=0;i<pts.length;i+=2){
    if(pts[i]<x0||pts[i]>x1)continue;
    const c=E('circle',g);
    
    
    c.setAttribute('cx',sx(pts[i]).toFixed(1));c.setAttribute('cy',sy(pts[i+1]/1000).toFixed(1));
    c.setAttribute('r',r);c.setAttribute('fill',ORANGES[n++%ORANGES.length]);
  }
}
function markers(parent,name,xs,ys,sx,sy,k,r,color,clip){
  const g=E('g',parent);g.setAttribute('clip-path','url(#'+clip+')');
  
  
  for(let i=0;i<xs.length;i++){
    const c=E('circle',g);
    
    
    c.setAttribute('cx',sx(xs[i]).toFixed(1));c.setAttribute('cy',sy(ys[i]*k).toFixed(1));
    c.setAttribute('r',r);c.setAttribute('fill',color);
  }
}
function seg(parent,name,x1,y1,x2,y2,color,w){
  const l=E('line',parent);
  
  
  l.setAttribute('x1',x1);l.setAttribute('y1',y1);l.setAttribute('x2',x2);l.setAttribute('y2',y2);
  l.setAttribute('stroke',color);l.setAttribute('stroke-width',w);
  return l;
}
function label(parent,name,x,y,str,anchor){
  const t=E('text',parent);
  
  
  t.setAttribute('x',x);t.setAttribute('y',y);t.setAttribute('font-size',74);
  t.setAttribute('text-anchor',anchor);t.textContent=str;
  let len=0;
  for(const ch of str)len+=ch==='.'?19:ch==='-'?24:34.5;
  t.setAttribute('textLength',len);
  t.setAttribute('lengthAdjust','spacingAndGlyphs');
}
function gridAxes(parent,sx,sy,L,R,T,B,xTicks,yTicks){
  xTicks.forEach(v=>seg(parent,'x-gridline',sx(v),T,sx(v),B,'#e0e0e0',5));
  yTicks.forEach(v=>seg(parent,'y-gridline',L,sy(v),R,sy(v),'#e0e0e0',5));
}
function axesOver(parent,sx,sy,L,R,T,B,xTicks,xLabels,yTicks,yLabels,tick,xLabelY){
  seg(parent,'y-axis-line',L,T,L,B+2.5,'#4d4d4d',5);
  seg(parent,'x-axis-line',L,B,R,B,'#4d4d4d',5);
  xTicks.forEach((v,i)=>{
    seg(parent,'x-tick',sx(v),B,sx(v),B-tick,'#4d4d4d',5);
    label(parent,'x-tick-label',sx(v),xLabelY,xLabels[i],'middle');
  });
  yTicks.forEach((v,i)=>{
    seg(parent,'y-tick',L,sy(v),L+tick,sy(v),'#4d4d4d',5);
    label(parent,'y-tick-label',L-22,sy(v)+20,yLabels[i],'end');
  });
}
const K=0.001;

// Panel a
(function(){
  const g=document.getElementById('pa');
  const sx=scale(1,890,398,3467),sy=scale(-0.2,0.2,1073,122);
  gridAxes(g,sx,sy,398,3467,122,1073,aXTicks,aYTicks);
  band(g,'uncomp-cloud-tint',uncCloudX,uncCloudTop,uncCloudBot,sx,sy,'#3f7fc5',0.16,'ca');
  band(g,'uncomp-point-cloud',uncCloudX,uncCloudTop,uncCloudBot,sx,sy,'url(#speckBlue)',1,'ca');
  band(g,'comp-cloud-tint',comCloudX,comCloudTop,comCloudBot,sx,sy,'#d95319',0.16,'ca');
  band(g,'comp-point-cloud',comCloudX,comCloudTop,comCloudBot,sx,sy,'url(#speckOrange)',1,'ca');
  pointsUnc(g,uncPoints,sx,sy,4.5,'ca',1,890);
  pointsCom(g,comPoints,sx,sy,4.5,'ca',1,890);
  polyline(g,'comp-30min-mean-line',comMeanX,comMeanY,sx,sy,K,'#8c341a',13,'ca');
  polyline(g,'uncomp-30min-mean-line',uncMeanX,uncMeanY,sx,sy,K,'#0b5a91',13,'ca');
  polyline(g,'tilt-amplitude-line',tiltX,tiltY,sx,sy,K,'#98989c',8,'ca');
  polyline(g,'emulation-error-line',emuErrX,emuErrY,sx,sy,K,'#edb120',8,'ca');
  seg(g,'zero-line',398,sy(0),3467,sy(0),'#222',4);
  const box1=E('rect',g);
  
  
  box1.setAttribute('x',sx(356));box1.setAttribute('y',sy(0.15));
  box1.setAttribute('width',sx(454)-sx(356));box1.setAttribute('height',sy(-0.15)-sy(0.15));
  box1.setAttribute('fill','none');box1.setAttribute('stroke','#98989c');box1.setAttribute('stroke-width',5);
  box1.setAttribute('stroke-dasharray','72 43');
  const box2=E('rect',g);
  
  
  box2.setAttribute('x',sx(726));box2.setAttribute('y',sy(0.15));
  box2.setAttribute('width',sx(793)-sx(726));box2.setAttribute('height',sy(-0.15)-sy(0.15));
  box2.setAttribute('fill','none');box2.setAttribute('stroke','#98989c');box2.setAttribute('stroke-width',5);
  box2.setAttribute('stroke-dasharray','58 18 19 18');
  axesOver(g,sx,sy,398,3467,122,1073,aXTicks,aXTicks.map(String),aYTicks,aYLabels,33,1156);
})();

// Panel b
(function(){
  const g=document.getElementById('pb');
  const sx=scale(356,454,426,1245),sy=scale(-0.15,0.15,2393,1730);
  gridAxes(g,sx,sy,426,1245,1730,2393,bXTicks,bcYTicks);
  seg(g,'zero-line',426,sy(0),1245,sy(0),'#222',4);
  pointsUnc(g,uncPoints,sx,sy,4.6,'cb',356,454);
  pointsCom(g,comPoints,sx,sy,4.6,'cb',356,454);
  polyline(g,'comp-30min-mean-line',bComX,bComY,sx,sy,K,'#8c341a',13,'cb');
  polyline(g,'uncomp-30min-mean-line',bUncX,bUncY,sx,sy,K,'#0b5a91',13,'cb');
  polyline(g,'emulation-error-line',bEmuX,bEmuY,sx,sy,K,'#edb120',8,'cb');
  axesOver(g,sx,sy,426,1245,1730,2393,bXTicks,bXTicks.map(String),bcYTicks,bcYLabels,11,2475);
})();

// Panel c
(function(){
  const g=document.getElementById('pc');
  const sx=scale(726,793,1538,2355),sy=scale(-0.15,0.15,2393,1730);
  gridAxes(g,sx,sy,1538,2355,1730,2393,cXTicks,bcYTicks);
  seg(g,'zero-line',1538,sy(0),2355,sy(0),'#222',4);
  pointsUnc(g,uncPoints,sx,sy,4.6,'cc',726,793);
  pointsCom(g,comPoints,sx,sy,4.6,'cc',726,793);
  polyline(g,'comp-30min-mean-line',cComMeanX,cComMeanY,sx,sy,K,'#8c341a',13,'cc');
  polyline(g,'uncomp-30min-mean-line',cUncMeanX,cUncMeanY,sx,sy,K,'#0b5a91',13,'cc');
  polyline(g,'tilt-amplitude-line',cTiltX,cTiltY,sx,sy,K,'#98989c',8,'cc');
  polyline(g,'emulation-error-line',cEmuX,cEmuY,sx,sy,K,'#edb120',8,'cc');
  polyline(g,'ti-unc-line',cIntervals,cTiUnc,sx,sy,K,'#0072bd',4,'cc');
  markers(g,'ti-unc-markers',cIntervals,cTiUnc,sx,sy,K,7,'#0072bd','cc');
  polyline(g,'ti-ref-line',cIntervals,cTiRef,sx,sy,K,'#77ac30',4,'cc');
  markers(g,'ti-ref-markers',cIntervals,cTiRef,sx,sy,K,7,'#77ac30','cc');
  axesOver(g,sx,sy,1538,2355,1730,2393,cXTicks,cXTicks.map(String),bcYTicks,bcYLabels,11,2475);
})();

// Panel d
(function(){
  const g=document.getElementById('pd');
  const sx=scale(-0.1,0.1,2649,3466),sy=scale(0,30,2394,1731);
  gridAxes(g,sx,sy,2649,3466,1731,2394,[0.1],[10,20,30]);
  function bars(vals,fill,op,barName){
    vals.forEach((v,i)=>{
      const b=E('rect',g);
      
      
      const x0=sx(binEdgeStart+i*binWidth),x1=sx(binEdgeStart+(i+1)*binWidth);
      b.setAttribute('x',x0);b.setAttribute('y',sy(v));
      b.setAttribute('width',x1-x0);b.setAttribute('height',sy(0)-sy(v));
      b.setAttribute('fill',fill);b.setAttribute('fill-opacity',op);
      b.setAttribute('stroke','#222');b.setAttribute('stroke-width',4.5);
    });
  }
  bars(uncPdf,'#7aa0d6',1,'uncomp-histogram-bar');
  seg(g,'uncomp-mean-line',sx(uncStats[0]),1731,sx(uncStats[0]),2394,'#0072bd',5);
  seg(g,'comp-mean-line',sx(comStats[0]),1731,sx(comStats[0]),2394,'#d95319',5);
  bars(comPdf,'#dd6521',0.62,'comp-histogram-bar');
  seg(g,'uncomp-sigma-bar',sx(uncStats[1]),sy(uncStats[3]),sx(uncStats[2]),sy(uncStats[3]),'#0072bd',5);
  seg(g,'uncomp-sigma-cap-left',sx(uncStats[1]),sy(uncStats[3]+0.95),sx(uncStats[1]),sy(uncStats[3]-0.95),'#0072bd',6);
  seg(g,'uncomp-sigma-cap-right',sx(uncStats[2]),sy(uncStats[3]+0.95),sx(uncStats[2]),sy(uncStats[3]-0.95),'#0072bd',6);
  seg(g,'comp-sigma-bar',sx(comStats[1]),sy(comStats[3]),sx(comStats[2]),sy(comStats[3]),'#d95319',5);
  seg(g,'comp-sigma-cap-left',sx(comStats[1]),sy(comStats[3]+0.95),sx(comStats[1]),sy(comStats[3]-0.95),'#d95319',6);
  seg(g,'comp-sigma-cap-right',sx(comStats[2]),sy(comStats[3]+0.95),sx(comStats[2]),sy(comStats[3]-0.95),'#d95319',6);
  axesOver(g,sx,sy,2649,3466,1731,2394,[],[],dYTicks,dYTicks.map(String),11,2475);
  dXTicks.forEach((v,i)=>label(g,'x-tick-label',sx(v),2475,dXLabels[i],'middle'));
})();
</script>
</body></html>
